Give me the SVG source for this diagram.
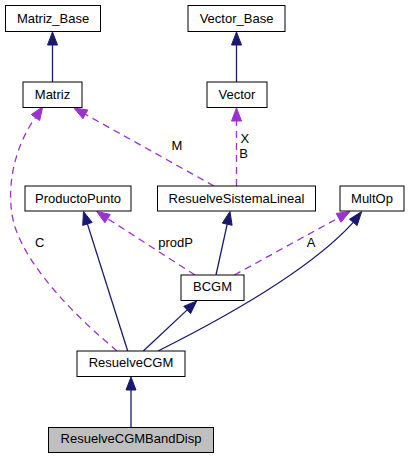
<svg xmlns="http://www.w3.org/2000/svg" width="410" height="459" viewBox="0 0 410 459">
<style>
.box{fill:#ffffff;stroke:#000000;stroke-width:1}
.cur{fill:#bfbfbf;stroke:#000000;stroke-width:1}
.t{font-family:"Liberation Sans",Arial,sans-serif;font-size:13px;fill:#000000;text-anchor:middle}
.lbl{font-family:"Liberation Sans",Arial,sans-serif;font-size:13px;fill:#000000}
.inh{fill:none;stroke:#191970;stroke-width:1.3}
.use{fill:none;stroke:#9a32cd;stroke-width:1.3;stroke-dasharray:7,5}
.ah{fill:#191970;stroke:#191970;stroke-width:1}
.ap{fill:#9a32cd;stroke:#9a32cd;stroke-width:1}
</style>
<rect width="410" height="459" fill="#ffffff"/>
<g id="connectors">
  <!-- Matriz -> Matriz_Base -->
  <line class="inh" x1="52.5" y1="82" x2="52.5" y2="45"/>
  <polygon class="ah" points="52.5,32 57.5,45 47.5,45"/>
  <!-- Vector -> Vector_Base -->
  <line class="inh" x1="236.5" y1="82" x2="236.5" y2="45"/>
  <polygon class="ah" points="236.5,32 241.5,45 231.5,45"/>
  <!-- ResuelveSistemaLineal -> Matriz (M) -->
  <line class="use" x1="214" y1="186" x2="85.4" y2="114.3"/>
  <polygon class="ap" points="74,108 82.9,118.7 87.8,110"/>
  <text class="lbl" x="171.5" y="150">M</text>
  <!-- ResuelveSistemaLineal -> Vector (X B) -->
  <line class="use" x1="236.5" y1="186" x2="236.5" y2="121"/>
  <polygon class="ap" points="236.5,108 241.5,121 231.5,121"/>
  <text class="lbl" x="240.5" y="142.7">X</text>
  <text class="lbl" x="239.3" y="157.7">B</text>
  <!-- ResuelveCGM -> Matriz (C) -->
  <path class="use" d="M117,351 C80,320 30,272 15,227 C5,195 12,150 35.5,117.5"/>
  <polygon class="ap" points="42.7,106.7 31.3,114.6 39.7,120.6"/>
  <text class="lbl" x="35" y="247.3">C</text>
  <!-- ResuelveCGM -> ProductoPunto -->
  <line class="inh" x1="127.7" y1="351" x2="87.4" y2="223.9"/>
  <polygon class="ah" points="83.5,211.5 92.2,222.4 82.7,225.4"/>
  <!-- BCGM -> ProductoPunto (prodP) -->
  <line class="use" x1="195" y1="275" x2="107.6" y2="218.6"/>
  <polygon class="ap" points="96.7,211.5 104.9,222.8 110.3,214.4"/>
  <text class="lbl" x="158.3" y="247">prodP</text>
  <!-- BCGM -> ResuelveSistemaLineal -->
  <line class="inh" x1="216" y1="275" x2="227.2" y2="224.2"/>
  <polygon class="ah" points="230,211.5 232.1,225.3 222.3,223.1"/>
  <!-- BCGM -> MultOp (A) -->
  <line class="use" x1="234.3" y1="275" x2="338.6" y2="217.8"/>
  <polygon class="ap" points="350,211.5 336.2,213.4 341,222.2"/>
  <text class="lbl" x="306.7" y="247">A</text>
  <!-- ResuelveCGM -> BCGM -->
  <line class="inh" x1="143.3" y1="351" x2="187.2" y2="309.9"/>
  <polygon class="ah" points="196.7,301 183.8,306.3 190.6,313.6"/>
  <!-- ResuelveCGM -> MultOp -->
  <path class="inh" d="M158,351 C218,321 308,272 353.3,222.4"/>
  <polygon class="ah" points="361.7,211.5 349.5,219.2 357.1,225.6"/>
  <!-- ResuelveCGMBandDisp -> ResuelveCGM -->
  <line class="inh" x1="131" y1="427" x2="131" y2="390"/>
  <polygon class="ah" points="131,377 136,390 126,390"/>
</g>
<g id="Matriz_Base">
  <rect class="box" x="5.5" y="5.5" width="95" height="26"/>
  <text class="t" x="53" y="22.5">Matriz_Base</text>
</g>
<g id="Vector_Base">
  <rect class="box" x="188" y="5.5" width="97" height="26"/>
  <text class="t" x="236.5" y="22.5">Vector_Base</text>
</g>
<g id="Matriz">
  <rect class="box" x="23" y="82" width="59" height="25.5"/>
  <text class="t" x="52.5" y="98.5">Matriz</text>
</g>
<g id="Vector">
  <rect class="box" x="207" y="82" width="60" height="25.5"/>
  <text class="t" x="237" y="98.5">Vector</text>
</g>
<g id="ProductoPunto">
  <rect class="box" x="25" y="186" width="106" height="25"/>
  <text class="t" x="78" y="202.5">ProductoPunto</text>
</g>
<g id="ResuelveSistemaLineal">
  <rect class="box" x="157.5" y="186" width="158" height="25"/>
  <text class="t" x="236.5" y="202.5">ResuelveSistemaLineal</text>
</g>
<g id="MultOp">
  <rect class="box" x="340" y="186" width="64" height="25"/>
  <text class="t" x="372" y="202.5">MultOp</text>
</g>
<g id="BCGM">
  <rect class="box" x="181" y="275" width="63" height="25.5"/>
  <text class="t" x="212.5" y="291">BCGM</text>
</g>
<g id="ResuelveCGM">
  <rect class="box" x="77" y="351" width="108" height="25.5"/>
  <text class="t" x="131" y="367">ResuelveCGM</text>
</g>
<g id="ResuelveCGMBandDisp">
  <rect class="cur" x="48.5" y="427.5" width="165" height="25"/>
  <text class="t" x="131" y="443">ResuelveCGMBandDisp</text>
</g>
</svg>
